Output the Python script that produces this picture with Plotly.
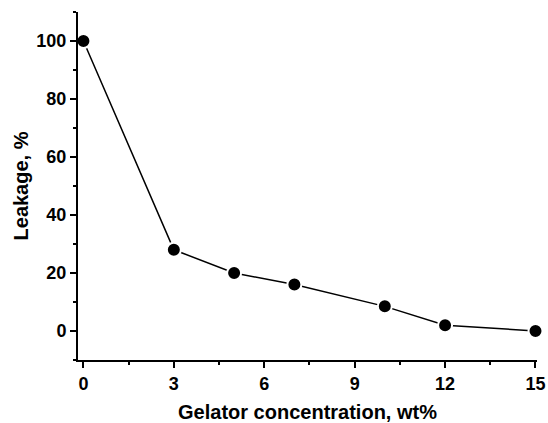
import plotly.graph_objects as go

concentration = [0, 3, 5, 7, 10, 12, 15]
leakage = [100, 28, 20, 16, 8.5, 2, 0]
x_ticks = [0, 3, 6, 9, 12, 15]
y_ticks = [0, 20, 40, 60, 80, 100]

fig = go.Figure()
fig.add_trace(go.Scatter(
    x=concentration, y=leakage, mode="lines+markers",
    line=dict(color="black", width=1.5),
    marker=dict(symbol="circle", size=14, color="black", line=dict(color="white", width=2)),
    cliponaxis=False, showlegend=False,
))

font_family = "Liberation Sans, Arial, sans-serif"
axis_common = dict(
    showgrid=False, zeroline=False, showline=True, linecolor="black", linewidth=2,
    ticks="outside", ticklen=6, tickwidth=2, tickcolor="black",
    tickfont=dict(family=font_family, size=18, color="black", weight="bold"),
    mirror=False, automargin=False,
)
fig.update_layout(
    width=548, height=423,
    margin=dict(l=78, r=11, t=12, b=63),
    plot_bgcolor="white", paper_bgcolor="white",
    xaxis=dict(
        range=[-0.18, 15.05], tickvals=x_ticks,
        minor=dict(dtick=1.5, tick0=0, ticks="outside", ticklen=3, tickwidth=2, tickcolor="black"),
        title=dict(text="Gelator concentration, wt%", standoff=14,
                   font=dict(family=font_family, size=20, color="black", weight="bold")),
        **axis_common,
    ),
    yaxis=dict(
        range=[-10, 110], tickvals=y_ticks,
        minor=dict(dtick=10, tick0=0, ticks="outside", ticklen=3, tickwidth=2, tickcolor="black"),
        title=dict(text="Leakage, %", standoff=2,
                   font=dict(family=font_family, size=20, color="black", weight="bold")),
        **axis_common,
    ),
)
fig.write_html(
    "out.html",
    config={"displayModeBar": False},
    post_script="document.body.style.margin='0px';document.documentElement.style.overflow='hidden';",
)
